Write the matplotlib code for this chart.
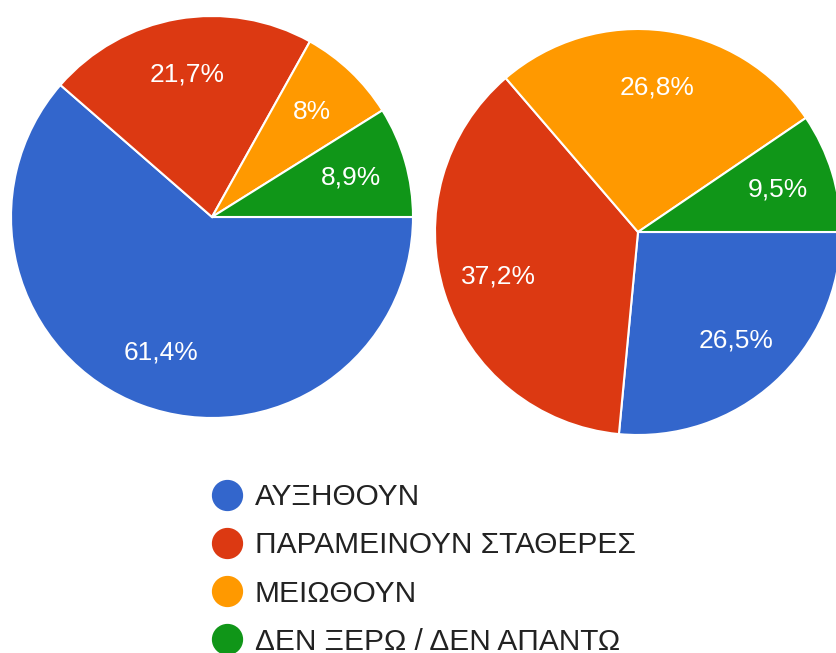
import matplotlib.pyplot as plt
from matplotlib.lines import Line2D

plt.rcParams['font.family'] = ['Liberation Sans', 'DejaVu Sans']

categories = ['ΑΥΞΗΘΟΥΝ', 'ΠΑΡΑΜΕΙΝΟΥΝ ΣΤΑΘΕΡΕΣ', 'ΜΕΙΩΘΟΥΝ', 'ΔΕΝ ΞΕΡΩ / ΔΕΝ ΑΠΑΝΤΩ']
left_values = [61.4, 21.7, 8.0, 8.9]
right_values = [26.5, 37.2, 26.8, 9.5]
colors = ['#3366cc', '#dc3912', '#ff9900', '#109618']


def fmt(pct):
    s = f"{pct:.1f}".rstrip('0').rstrip('.')
    return s.replace('.', ',') + '%'


def draw_pie(ax, values):
    wedges, texts, autotexts = ax.pie(
        values, colors=colors, startangle=0, counterclock=False,
        autopct=fmt, pctdistance=0.72, radius=1,
        wedgeprops=dict(edgecolor='white', linewidth=1.5),
        textprops=dict(color='white', fontsize=19))
    ax.set_xlim(-1, 1)
    ax.set_ylim(-1, 1)
    ax.set_aspect('equal')
    ax.axis('off')


W, H = 837, 653
fig = plt.figure(figsize=(W / 100, H / 100), dpi=100)

# left pie: center (212, 217) px, r 201
r1 = 201
ax1 = fig.add_axes([(212 - r1) / W, (H - 217 - r1) / H, 2 * r1 / W, 2 * r1 / H])
draw_pie(ax1, left_values)

# right pie: center (638, 232) px, r 203 (cut off on the right)
r2 = 203
ax2 = fig.add_axes([(638 - r2) / W, (H - 232 - r2) / H, 2 * r2 / W, 2 * r2 / H])
draw_pie(ax2, right_values)

handles = [Line2D([], [], marker='o', linestyle='', markersize=21.5,
                  markerfacecolor=c, markeredgecolor=c) for c in colors]
fig.legend(handles, categories, loc='upper left',
           bbox_to_anchor=(209 / W, (H - 483) / H), frameon=False,
           fontsize=21.5, labelspacing=0.68, handlelength=1.2, handletextpad=0.33,
           labelcolor='#222222', borderpad=0, borderaxespad=0)

fig.savefig('out.png', dpi=100)
